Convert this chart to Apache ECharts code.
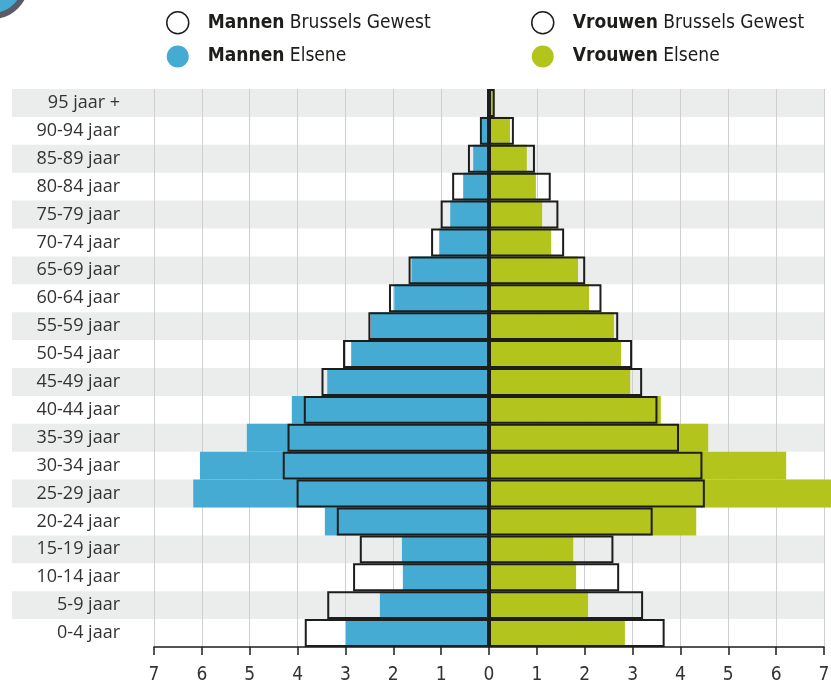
<!DOCTYPE html>
<html>
<head>
<meta charset="utf-8">
<script src="https://cdn.jsdelivr.net/npm/echarts@6/dist/echarts.min.js"></script>
<style>
  html, body { margin: 0; padding: 0; background: #fff; }
  #chart { width: 831px; height: 685px; }
</style>
</head>
<body>
<div id="chart"></div>
<script>
// leeftijdsgroepen, van onder naar boven
var categories = ['0-4 jaar', '5-9 jaar', '10-14 jaar', '15-19 jaar', '20-24 jaar', '25-29 jaar',
  '30-34 jaar', '35-39 jaar', '40-44 jaar', '45-49 jaar', '50-54 jaar', '55-59 jaar', '60-64 jaar',
  '65-69 jaar', '70-74 jaar', '75-79 jaar', '80-84 jaar', '85-89 jaar', '90-94 jaar', '95 jaar +'];

// percentages
var mannenElsene = [2.99, 2.28, 1.80, 1.82, 3.43, 6.18, 6.04, 5.06, 4.12, 3.38, 2.88, 2.47, 1.98,
  1.62, 1.04, 0.81, 0.54, 0.33, 0.15, 0.03];
var mannenBrussel = [3.85, 3.38, 2.84, 2.70, 3.18, 4.02, 4.31, 4.21, 3.87, 3.50, 3.05, 2.52, 2.09,
  1.68, 1.21, 1.01, 0.77, 0.44, 0.19, 0.04];
var vrouwenElsene = [2.84, 2.07, 1.82, 1.76, 4.33, 7.40, 6.21, 4.58, 3.59, 2.95, 2.76, 2.61, 2.09,
  1.86, 1.30, 1.11, 0.98, 0.79, 0.44, 0.10];
var vrouwenBrussel = [3.67, 3.22, 2.72, 2.60, 3.42, 4.51, 4.46, 3.97, 3.52, 3.20, 2.99, 2.70, 2.35,
  2.01, 1.57, 1.45, 1.29, 0.96, 0.52, 0.12];

var blauw = '#45abd3';
var groen = '#b3c41c';
var zwart = '#1d1d1b';
var condensed = '"Liberation Sans Narrow", "DejaVu Sans Condensed", "Open Sans", sans-serif';

var neg = function (arr) { return arr.map(function (v) { return -v; }); };

var legendText = {
  fontFamily: condensed,
  fontSize: 19,
  color: '#1d1d1b',
  rich: {
    b: { fontFamily: condensed, fontSize: 19, fontWeight: 'bold', color: '#1d1d1b' },
    n: { fontFamily: condensed, fontSize: 19, color: '#1d1d1b' }
  }
};
var legendFmt = function (name) {
  var i = name.indexOf(' ');
  return '{b|' + name.slice(0, i) + '} {n|' + name.slice(i + 1) + '}';
};
var openIcon = { color: '#fff', borderColor: zwart, borderWidth: 1.5 };

var myChart = echarts.init(document.getElementById('chart'));
myChart.setOption({
  animation: false,
  graphic: [{
    type: 'circle',
    shape: { cx: -8, cy: -18, r: 34 },
    style: { fill: blauw, stroke: '#5b5b66', lineWidth: 6 },
    silent: true
  }],
  legend: [{
    orient: 'vertical',
    left: 161,
    top: 6,
    itemWidth: 50,
    itemHeight: 22,
    itemGap: 11,
    icon: 'circle',
    formatter: legendFmt,
    textStyle: legendText,
    data: [
      { name: 'Mannen Brussels Gewest', itemStyle: openIcon },
      { name: 'Mannen Elsene' }
    ]
  }, {
    orient: 'vertical',
    left: 526,
    top: 6,
    itemWidth: 50,
    itemHeight: 22,
    itemGap: 11,
    icon: 'circle',
    formatter: legendFmt,
    textStyle: legendText,
    data: [
      { name: 'Vrouwen Brussels Gewest', itemStyle: openIcon },
      { name: 'Vrouwen Elsene' }
    ]
  }],
  grid: [
    { left: 154, right: 7, top: 89, bottom: 38, outerBoundsMode: 'none', containLabel: false },
    { left: 12, right: 7, top: 89, bottom: 38, outerBoundsMode: 'none', containLabel: false }
  ],
  xAxis: [{
    type: 'value',
    gridIndex: 0,
    min: -7,
    max: 7,
    interval: 1,
    z: 1,
    axisLine: { show: true, lineStyle: { color: zwart, width: 1.5 } },
    axisTick: { show: true, length: 8, lineStyle: { color: zwart, width: 1.5 } },
    splitLine: { show: true, lineStyle: { color: '#cfcfcf', width: 1 } },
    axisLabel: {
      margin: 19,
      fontFamily: condensed,
      fontSize: 19,
      color: '#333',
      formatter: function (v) { return Math.abs(v); }
    }
  }, {
    type: 'value',
    gridIndex: 1,
    show: false,
    min: 0,
    max: 1
  }],
  yAxis: [{
    type: 'category',
    gridIndex: 0,
    data: categories,
    z: 1,
    axisLine: { show: false },
    axisTick: { show: false },
    axisLabel: {
      interval: 0,
      margin: 34,
      fontFamily: '"Open Sans", sans-serif',
      fontSize: 18,
      color: '#333'
    }
  }, {
    type: 'category',
    gridIndex: 1,
    data: categories,
    z: 0,
    axisLine: { show: false },
    axisTick: { show: false },
    axisLabel: { show: false, interval: 0 },
    splitArea: {
      show: true,
      interval: 0,
      areaStyle: { color: ['rgba(255,255,255,0)', '#ebecec'] }
    }
  }],
  series: [{
    name: 'Mannen Elsene',
    type: 'bar',
    data: neg(mannenElsene),
    barCategoryGap: 0,
    barGap: '-100%',
    itemStyle: { color: blauw }
  }, {
    name: 'Vrouwen Elsene',
    type: 'bar',
    data: vrouwenElsene,
    barCategoryGap: 0,
    barGap: '-100%',
    clip: false,
    itemStyle: { color: groen }
  }, {
    name: 'Mannen Brussels Gewest',
    type: 'bar',
    data: neg(mannenBrussel),
    barCategoryGap: 0,
    barGap: '-100%',
    itemStyle: { color: 'rgba(0,0,0,0)', borderColor: zwart, borderWidth: 2 }
  }, {
    name: 'Vrouwen Brussels Gewest',
    type: 'bar',
    data: vrouwenBrussel,
    barCategoryGap: 0,
    barGap: '-100%',
    itemStyle: { color: 'rgba(0,0,0,0)', borderColor: zwart, borderWidth: 2 },
    markLine: {
      silent: true,
      symbol: 'none',
      label: { show: false },
      lineStyle: { color: zwart, width: 4, type: 'solid' },
      data: [{ xAxis: 0 }]
    }
  }]
});
</script>
</body>
</html>
